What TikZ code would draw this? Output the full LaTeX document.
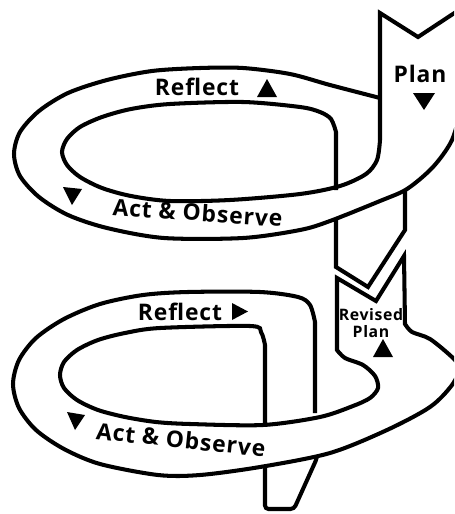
\documentclass[tikz,border=0pt]{standalone}
\usepackage{fontspec}
\newfontfamily\labelfont[LetterSpace=4]{Open Sans}
\usepackage{tikz}

\begin{document}
\begin{tikzpicture}[
  x=0.02cm, y=-0.02cm,
  band/.style={draw=black, line width=2.3pt},
  lbl/.style={font={\labelfont\bfseries\fontsize{13}{15}\selectfont}, anchor=base, inner sep=0pt},
  sublbl/.style={font={\labelfont\bfseries\fontsize{9}{10}\selectfont}, align=center, inner sep=0pt},
  tri/.style={fill=black}
]
  \useasboundingbox (0,0) rectangle (454,514);
  \clip (0,0) rectangle (454,514);

  % upper turn
  \draw[band] (336,170) -- (336,267) -- (368,287) -- (405,230) -- (405,170);
  \draw[band, fill=white] plot[smooth] coordinates {(380,98) (330,85) (290,74) (243,68) (200,68) (152,71) (107,80) (68,93) (39,111) (20,132) (14,154) (20,176) (39,197) (68,215) (107,228) (164,238) (243,238) (300,230) (330,221) (380,201) (407,189) (433,167) (452,140) (462,105)};
  \draw[band] (462,8) -- (418,37) -- (380,13) -- (380,140) -- plot[smooth] coordinates {(380,140) (377,160) (366,174) (340,186) (300,194) (230,200) (170,201) (131,196) (102,188) (80,177) (67,165) (62,152) (67,139) (80,127) (102,117) (131,109) (170,104) (243,102) (300,107) (320,112) (331,119) (336,132)} -- (336,190);

  % lower turn
  \draw[band, rounded corners=2pt] (265,430) -- (265,509) -- (294,509) -- (317,458) -- (317,430);
  \draw[band, fill=white] (315,413) -- (315,322) -- plot[smooth] coordinates {(315,322) (310,305) (298,297) (260,292) (188,292) (143,295) (100,304) (64,319) (36,338) (19,360) (13,384) (19,408) (36,430) (64,449) (100,464) (158,475) (200,475) (260,467) (330,453) (387,430) (430,407) (452,385) (464,362)}
    -- plot[smooth] coordinates {(464,372) (453,358) (430,339) (412,332) (405,324)} -- (404,256) -- (376,301) -- (337,278) -- (337,350)
    -- plot[smooth] coordinates {(337,350) (345,358) (363,365) (375,376) (378,388) (370,398) (353,406) (320,417) (263,425) (190,424) (156,422) (125,417) (98,410) (77,400) (64,388) (60,375) (64,362) (77,350) (98,340) (125,333) (160,328) (250,326) (261,332) (265,345)} -- (265,423);

  \node[lbl] (reflectA) at (197,95) {Reflect};
  \node[lbl] (planA) at (420,82) {Plan};
  \node[lbl, rotate=-4] (actA) at (197,221) {Act \& Observe};
  \node[lbl] (reflectB) at (180,320) {Reflect};
  \node[lbl, rotate=-6] (actB) at (180,448) {Act \& Observe};
  \node[sublbl] (planB) at (371,323) {Revised\\Plan};

  \fill[tri] (257,97) -- (277,97) -- (267,79) -- cycle;
  \fill[tri] (413,93) -- (435,93) -- (424,110) -- cycle;
  \fill[tri] (63,187) -- (82,189) -- (72,205) -- cycle;
  \fill[tri] (232,303) -- (232,320) -- (248,311.5) -- cycle;
  \fill[tri] (67,412) -- (85,415) -- (75,430) -- cycle;
  \fill[tri] (373,357) -- (393,357) -- (383,339) -- cycle;
\end{tikzpicture}
\end{document}
